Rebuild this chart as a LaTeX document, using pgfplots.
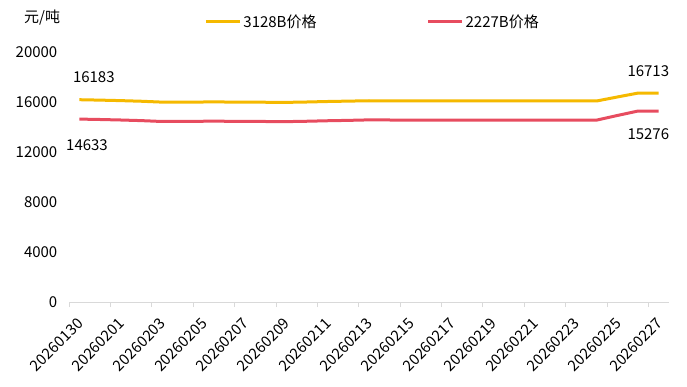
\documentclass[border=0pt]{standalone}
\usepackage{fontspec}
\setmainfont{Noto Sans CJK SC}
\usepackage{pgfplots}
\pgfplotsset{compat=1.18}
\definecolor{cyel}{RGB}{245,185,0}
\definecolor{cred}{RGB}{231,76,95}
\definecolor{caxis}{RGB}{217,217,217}
\begin{document}
\begin{tikzpicture}[x=1pt,y=1pt,font=\fontsize{15}{17}\selectfont]
\useasboundingbox (0,0) rectangle (687,386);
\node[inner sep=0pt, anchor=west] at (24,368) {元/吨};
\begin{axis}[
  at={(69pt,84pt)}, anchor=south west,
  scale only axis, width=600pt, height=250pt,
  xmin=-0.5, xmax=28.5, ymin=0, ymax=20000,
  axis x line*=bottom, axis y line*=left,
  x axis line style={draw=caxis, line width=0.8pt},
  y axis line style={draw=none},
  xtick={0,2,...,28},
  xticklabels={20260130,20260201,20260203,20260205,20260207,20260209,20260211,20260213,20260215,20260217,20260219,20260221,20260223,20260225,20260227},
  minor xtick={-0.5,1.5,...,27.5},
  major tick length=0pt, minor tick length=5pt,
  xtick align=outside,
  minor x tick style={draw=caxis, line width=0.8pt},
  ytick={0,4000,...,20000},
  scaled y ticks=false,
  /pgf/number format/assume math mode=true,
  yticklabel={\pgfmathprintnumber[fixed,1000 sep={}]{\tick}},
  yticklabel style={anchor=east, inner sep=0pt, xshift=-11.5pt, font=\fontsize{15}{17}\selectfont},
  xticklabel style={xshift=1pt, yshift=-19pt, rotate=45, anchor=east, inner sep=0pt, font=\fontsize{15}{17}\selectfont},
  legend columns=2,
  legend style={at={(0.506,1.12)}, anchor=center, draw=none, fill=none,
    font=\fontsize{15}{17}\selectfont,
    /tikz/every even column/.append style={column sep=108pt}},
  legend image code/.code={\draw[#1, line width=3pt] (0pt,0pt) -- (34pt,0pt);},
  clip=false,
]
\addplot[cyel, line width=3pt, line join=round] coordinates {
(0,16183)(1,16150)(2,16110)(3,16060)(4,15990)(5,15990)(6,16000)(7,16000)(8,15990)(9,15980)
(10,15970)(11,16000)(12,16040)(13,16070)(14,16100)(15,16090)(16,16080)(17,16080)(18,16080)(19,16080)
(20,16080)(21,16080)(22,16080)(23,16080)(24,16080)(25,16080)(26,16400)(27,16713)(28,16713)};
\addlegendentry{3128B价格}
\addplot[cred, line width=3pt, line join=round] coordinates {
(0,14633)(1,14600)(2,14560)(3,14510)(4,14440)(5,14450)(6,14460)(7,14460)(8,14450)(9,14440)
(10,14430)(11,14460)(12,14500)(13,14530)(14,14570)(15,14560)(16,14550)(17,14550)(18,14550)(19,14550)
(20,14550)(21,14550)(22,14550)(23,14550)(24,14550)(25,14550)(26,14920)(27,15276)(28,15276)};
\addlegendentry{2227B价格}
\node[inner sep=0pt] at (axis cs:0.7,17960) {16183};
\node[inner sep=0pt] at (axis cs:0.37,12560) {14633};
\node[inner sep=0pt] at (axis cs:27.5,18480) {16713};
\node[inner sep=0pt] at (axis cs:27.5,13400) {15276};
\end{axis}
\end{tikzpicture}
\end{document}
